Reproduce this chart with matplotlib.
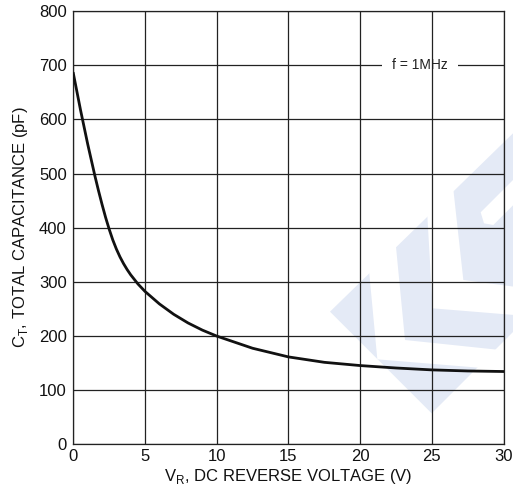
import matplotlib
matplotlib.use('Agg')
import matplotlib.pyplot as plt
from matplotlib.patches import Polygon

plt.rcParams['font.family'] = ['Liberation Sans', 'DejaVu Sans']
plt.rcParams['mathtext.fontset'] = 'custom'
plt.rcParams['mathtext.rm'] = 'Liberation Sans'

# Данные
voltage = [0, 0.5, 1.0, 1.5, 1.75, 2.0, 2.25, 2.5, 2.75, 3.0, 3.25, 3.5, 3.75,
           4.0, 4.5, 5.0, 6, 7, 8, 9, 10, 12.5, 15, 17.5, 20, 22.5, 25, 27.5, 30]
capacitance = [685, 617.5, 554.5, 496, 468.7, 443, 418.8, 397, 377.3, 360.5, 346,
               333.5, 322.5, 312.75, 296, 282, 259, 239.75, 223.75, 210.5, 199.5,
               177, 161, 151, 145, 140.5, 137, 135, 134]

x_ticks = [0, 5, 10, 15, 20, 25, 30]
y_ticks = [0, 100, 200, 300, 400, 500, 600, 700, 800]

fig = plt.figure(figsize=(5.13, 4.92), dpi=100)
ax = fig.add_axes([0.143, 0.0976, 0.8385, 0.8794])
ax.set_facecolor('none')

# Водяной знак (светло-голубой ромб с белыми прорезями)
def wm(points):
    return [((320 + px / 3) / 513, 1 - (120 + py / 3) / 492) for px, py in points]

blue = '#e4eaf6'
ax.add_patch(Polygon(wm([(30, 575), (700, -78), (700, 515), (335, 880)]),
                     closed=True, transform=fig.transFigure, facecolor=blue,
                     edgecolor='none', zorder=0, clip_on=False))
for cut in [
    [(146, 440), (226, 360), (255, 660), (560, 692), (560, 750), (172, 718)],
    [(321, 270), (398, 190), (430, 480), (620, 505), (620, 588), (338, 565)],
    [(482, 277), (492, 310), (520, 315), (630, 205), (630, 129)],
]:
    ax.add_patch(Polygon(wm(cut), closed=True, transform=fig.transFigure,
                         facecolor='white', edgecolor='none', zorder=0.1,
                         clip_on=False))

# Сетка
grid_color = '#222222'
for y in y_ticks:
    ax.axhline(y, color=grid_color, lw=0.9, zorder=1)
# белый разрыв под подписью частоты
ax.plot([21.5, 26.8], [700, 700], color='white', lw=3, zorder=1.5,
        solid_capstyle='butt')
for x in x_ticks:
    ax.axvline(x, color=grid_color, lw=0.9, zorder=2)

ax.plot(voltage, capacitance, color='#111111', lw=2.0, zorder=3,
        solid_joinstyle='round')

ax.text(24.15, 700, 'f = 1MHz', fontsize=10, ha='center', va='center',
        color='#222222', zorder=4)

ax.set_xlim(0, 30)
ax.set_ylim(0, 800)
ax.set_xticks(x_ticks)
ax.set_yticks(y_ticks)
ax.tick_params(length=0, labelsize=12, colors='#111111')
ax.tick_params(axis='y', pad=4.8)
ax.tick_params(axis='x', pad=3.6)
for s in ax.spines.values():
    s.set_color(grid_color)
    s.set_linewidth(0.9)

ax.set_xlabel(r'V$_\mathregular{R}$, DC REVERSE VOLTAGE (V)', fontsize=12,
              color='#111111', labelpad=2)
ax.set_ylabel(r'C$_\mathregular{T}$, TOTAL CAPACITANCE (pF)', fontsize=12,
              color='#111111', labelpad=6)

fig.savefig('out.png', dpi=100)
